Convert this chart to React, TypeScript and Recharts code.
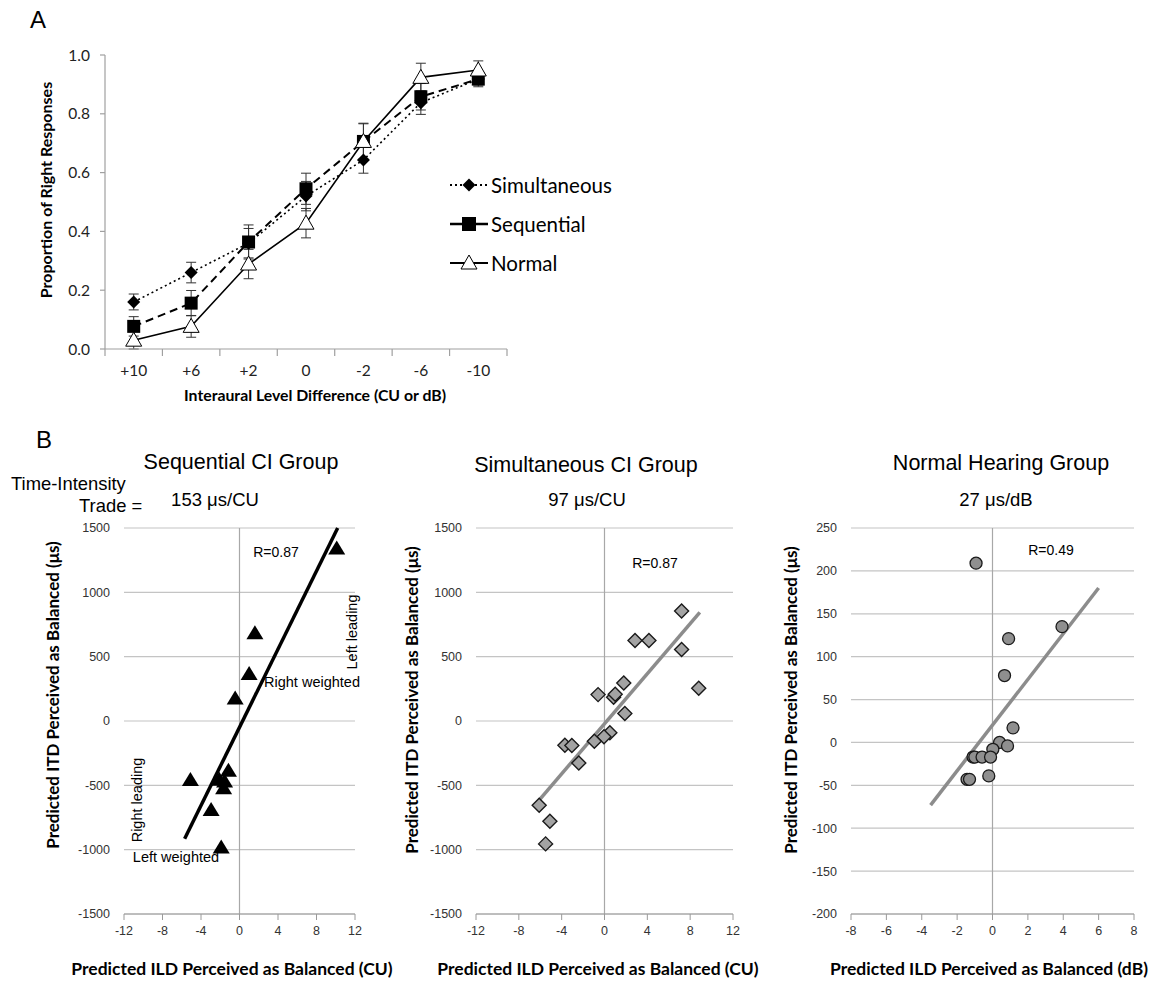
import React from "react";
import {
  CartesianGrid,
  ErrorBar,
  Line,
  LineChart,
  ReferenceLine,
  Scatter,
  ScatterChart,
  XAxis,
  YAxis,
} from "recharts";

// Panel A: proportion of right responses by ILD
const ildCats = ["+10", "+6", "+2", "0", "-2", "-6", "-10"];
const simVals = [0.16, 0.26, 0.36, 0.52, 0.643, 0.838, 0.918];
const simErr = [0.027, 0.035, 0.05, 0.05, 0.045, 0.04, 0.02];
const seqVals = [0.077, 0.156, 0.364, 0.545, 0.706, 0.858, 0.918];
const seqErr = [0.033, 0.043, 0.058, 0.053, 0.062, 0.045, 0.026];
const norVals = [0.03, 0.077, 0.289, 0.428, 0.706, 0.924, 0.949];
const norErr = [0.03, 0.037, 0.05, 0.05, 0.06, 0.048, 0.031];
const propTicks = [0, 0.2, 0.4, 0.6, 0.8, 1.0];
const bandEdges = [0, 1, 2, 3, 4, 5, 6, 7];

// Panel B: predicted ILD vs ITD perceived as balanced
const seqIld = [10.1, 1.6, 1.0, -0.45, -5.1, -1.15, -2.1, -1.55, -1.65, -2.95, -1.9];
const seqItd = [1345, 685, 370, 178, -455, -383, -453, -466, -518, -687, -980];
const seqFitX = [-5.7, 10.2];
const seqFitY = [-915, 1500];

const simIld = [7.2, 2.85, 4.15, 7.2, 8.8, 1.8, -0.6, 0.85, 1.0, 1.9, 0.5, -0.05, -0.95, -3.7, -3.05, -2.4, -6.1, -5.1, -5.5];
const simItd = [855, 625, 625, 555, 255, 295, 205, 185, 208, 58, -92, -122, -158, -188, -190, -327, -655, -780, -955];
const simFitX = [-6.1, 8.9];
const simFitY = [-615, 845];

const norIld = [-0.93, 3.93, 0.91, 0.68, 1.16, 0.4, 0.85, 0.02, -1.1, -1.0, -0.59, -0.11, -0.21, -1.44, -1.3];
const norItd = [209, 135, 121, 78, 17, 0, -4, -8, -17, -17, -17, -17, -39, -43, -43];
const norFitX = [-3.5, 6.0];
const norFitY = [-73, 180];

const ciXTicks = [-12, -8, -4, 0, 4, 8, 12];
const ciYTicks = [-1500, -1000, -500, 0, 500, 1000, 1500];
const nhXTicks = [-8, -6, -4, -2, 0, 2, 4, 6, 8];
const nhYTicks = [-200, -150, -100, -50, 0, 50, 100, 150, 200, 250];

const CALIBRI = "Lato, 'Open Sans', sans-serif";
const ARIAL = "'Liberation Sans', Arial, sans-serif";

// panel A geometry
const A_W = 540;
const A_LEFT = 45;
const A_YAXIS = 60;
const A_RIGHT = 33;
const halfBand = (A_W - A_LEFT - A_YAXIS - A_RIGHT) / ildCats.length / 2;

const lineData = ildCats.map((c, i) => ({
  x: i + 0.5,
  sim: simVals[i],
  simErr: simErr[i],
  seq: seqVals[i],
  seqErr: seqErr[i],
  nor: norVals[i],
  norErr: norErr[i],
}));

const pts = (xs: number[], ys: number[]) => xs.map((x, i) => ({ x, y: ys[i] }));

const Diamond = (p: any) => {
  const { cx, cy } = p;
  if (cx == null || cy == null) return <g />;
  return <path d={`M${cx},${cy - 6.5}L${cx + 6.5},${cy}L${cx},${cy + 6.5}L${cx - 6.5},${cy}Z`} fill="#000" />;
};
const Square = (p: any) => {
  const { cx, cy } = p;
  if (cx == null || cy == null) return <g />;
  return <rect x={cx - 6.5} y={cy - 6.5} width={13} height={13} fill="#000" />;
};
const OpenTri = (p: any) => {
  const { cx, cy } = p;
  if (cx == null || cy == null) return <g />;
  return (
    <path
      d={`M${cx},${cy - 8}L${cx + 8},${cy + 6}L${cx - 8},${cy + 6}Z`}
      fill="#fff"
      stroke="#000"
      strokeWidth={1}
    />
  );
};

// category label centred in the band right of each edge tick
const BandTick = (p: any) => {
  const { x, y, payload } = p;
  const label = ildCats[payload.value];
  if (label == null) return <g />;
  return (
    <text x={x + halfBand} y={y} dy="0.71em" textAnchor="middle" fill="#222" fontSize={15.5} fontFamily={CALIBRI}>
      {label}
    </text>
  );
};

const BlackTri = (p: any) => (
  <path d={`M${p.cx},${p.cy - 7.5}L${p.cx + 8.5},${p.cy + 6.5}L${p.cx - 8.5},${p.cy + 6.5}Z`} fill="#000" />
);
const GrayDiamond = (p: any) => (
  <path
    d={`M${p.cx},${p.cy - 7}L${p.cx + 7},${p.cy}L${p.cx},${p.cy + 7}L${p.cx - 7},${p.cy}Z`}
    fill="#a3a3a3"
    stroke="#1a1a1a"
    strokeWidth={1.4}
  />
);
const GrayCircle = (p: any) => (
  <circle cx={p.cx} cy={p.cy} r={6} fill="#8f8f8f" stroke="#1a1a1a" strokeWidth={1.3} />
);
const NoShape = () => <g />;

function Txt({
  x,
  y,
  children,
  size = 14,
  font = ARIAL,
  bold = false,
  rotate = false,
  anchor = "center",
}: any) {
  const tx = anchor === "left" ? "0" : "-50%";
  return (
    <div
      style={{
        position: "absolute",
        left: x,
        top: y,
        transform: `translate(${tx}, -50%)${rotate ? " rotate(-90deg)" : ""}`,
        transformOrigin: anchor === "left" ? "0 50%" : "50% 50%",
        fontFamily: font,
        fontSize: size,
        fontWeight: bold ? 700 : 400,
        whiteSpace: "nowrap",
        lineHeight: 1,
        color: "#000",
      }}
    >
      {children}
    </div>
  );
}

function LegendRow({ y, kind, label }: { y: number; kind: string; label: string }) {
  return (
    <div style={{ position: "absolute", left: 448, top: y - 12, height: 24, display: "flex", alignItems: "center" }}>
      <svg width={42} height={24}>
        {kind === "sim" && (
          <>
            <line x1={2} y1={12} x2={40} y2={12} stroke="#000" strokeWidth={2} strokeDasharray="2 3" />
            <path d="M21,5.5L27.5,12L21,18.5L14.5,12Z" fill="#000" />
          </>
        )}
        {kind === "seq" && (
          <>
            <line x1={2} y1={12} x2={40} y2={12} stroke="#000" strokeWidth={2.5} />
            <rect x={14} y={5} width={14} height={14} fill="#000" />
          </>
        )}
        {kind === "nor" && (
          <>
            <line x1={2} y1={12} x2={40} y2={12} stroke="#000" strokeWidth={2} />
            <path d="M21,4L29,18L13,18Z" fill="#fff" stroke="#000" strokeWidth={1} />
          </>
        )}
      </svg>
      <span style={{ fontFamily: CALIBRI, fontSize: 20.5, marginLeft: 1 }}>{label}</span>
    </div>
  );
}

function CiPanel({
  left,
  plotW,
  data,
  fitX,
  fitY,
  xTicks,
  yTicks,
  shape,
  fitColor,
}: any) {
  const yAxisW = 50;
  const mLeft = 20;
  const width = mLeft + yAxisW + plotW + 20;
  const xDom = [xTicks[0], xTicks[xTicks.length - 1]];
  const yDom = [yTicks[0], yTicks[yTicks.length - 1]];
  return (
    <div style={{ position: "absolute", left: left - mLeft - yAxisW, top: 500 }}>
      <ScatterChart width={width} height={444} margin={{ top: 28, right: 20, left: mLeft, bottom: 0 }}>
        <CartesianGrid vertical={false} stroke="#c4c4c4" strokeWidth={1.2} />
        <XAxis
          type="number"
          dataKey="x"
          domain={xDom}
          ticks={xTicks}
          interval={0}
          height={30}
          stroke="#9a9a9a"
          tickSize={6}
          tickMargin={6}
          tick={{ fill: "#333", fontSize: 12.5, fontFamily: ARIAL }}
        />
        <YAxis
          type="number"
          dataKey="y"
          domain={yDom}
          ticks={yTicks}
          interval={0}
          width={yAxisW}
          axisLine={false}
          tickLine={false}
          tickSize={6}
          tickMargin={8}
          tick={{ fill: "#333", fontSize: 12.5, fontFamily: ARIAL }}
        />
        <ReferenceLine x={0} stroke="#a8a8a8" strokeWidth={1.2} />
        <Scatter
          data={pts(fitX, fitY)}
          line={{ stroke: fitColor, strokeWidth: 3.5 }}
          shape={NoShape}
          isAnimationActive={false}
        />
        <Scatter data={data} shape={shape} isAnimationActive={false} />
      </ScatterChart>
    </div>
  );
}

export default function App() {
  return (
    <div style={{ position: "absolute", left: 0, top: 0, width: 1157, height: 984, background: "#fff" }}>
      {/* Panel A */}
      <Txt x={38} y={20} size={24} font={ARIAL}>A</Txt>
      <div style={{ position: "absolute", left: 0, top: 0 }}>
        <LineChart
          width={A_W}
          height={420}
          data={lineData}
          margin={{ top: 55, right: A_RIGHT, left: A_LEFT, bottom: 41 }}
        >
          <XAxis
            type="number"
            dataKey="x"
            domain={[0, 7]}
            ticks={bandEdges}
            interval={0}
            height={30}
            stroke="#a0a0a0"
            strokeWidth={1.2}
            tickSize={7}
            tickMargin={9}
            tick={BandTick}
          />
          <YAxis
            type="number"
            domain={[0, 1]}
            ticks={propTicks}
            interval={0}
            width={A_YAXIS}
            stroke="#a0a0a0"
            strokeWidth={1.2}
            tickSize={5}
            tickMargin={10}
            tickFormatter={(v: number) => v.toFixed(1)}
            tick={{ fill: "#222", fontSize: 15.5, fontFamily: CALIBRI }}
          />
          <Line
            dataKey="sim"
            stroke="#000"
            strokeWidth={1.6}
            strokeDasharray="2 3"
            dot={Diamond}
            isAnimationActive={false}
          >
            <ErrorBar dataKey="simErr" width={5} stroke="#333" strokeWidth={1} direction="y" />
          </Line>
          <Line
            dataKey="seq"
            stroke="#000"
            strokeWidth={2}
            strokeDasharray="8 5"
            dot={Square}
            isAnimationActive={false}
          >
            <ErrorBar dataKey="seqErr" width={5} stroke="#333" strokeWidth={1} direction="y" />
          </Line>
          <Line dataKey="nor" stroke="#000" strokeWidth={1.6} dot={OpenTri} isAnimationActive={false}>
            <ErrorBar dataKey="norErr" width={5} stroke="#333" strokeWidth={1} direction="y" />
          </Line>
        </LineChart>
      </div>
      <Txt x={46} y={190} size={16} font={CALIBRI} bold rotate>
        Proportion of Right Responses
      </Txt>
      <Txt x={315} y={395} size={15.8} font={CALIBRI} bold>
        Interaural Level Difference (CU or dB)
      </Txt>
      <LegendRow y={185} kind="sim" label="Simultaneous" />
      <LegendRow y={224} kind="seq" label="Sequential" />
      <LegendRow y={263} kind="nor" label="Normal" />

      {/* Panel B */}
      <Txt x={44} y={440} size={24} font={ARIAL}>B</Txt>

      <Txt x={241} y={463} size={21.5}>Sequential CI Group</Txt>
      <Txt x={11} y={484} size={18.4} anchor="left">Time-Intensity</Txt>
      <Txt x={79} y={506} size={18.4} anchor="left">Trade =</Txt>
      <Txt x={215} y={500} size={18.5}>153 μs/CU</Txt>

      <Txt x={586} y={466} size={21.5}>Simultaneous CI Group</Txt>
      <Txt x={587} y={500} size={18.5}>97 μs/CU</Txt>

      <Txt x={1001} y={464} size={21.5}>Normal Hearing Group</Txt>
      <Txt x={996} y={500} size={18.5}>27 μs/dB</Txt>

      <CiPanel
        left={124}
        plotW={231}
        data={pts(seqIld, seqItd)}
        fitX={seqFitX}
        fitY={seqFitY}
        xTicks={ciXTicks}
        yTicks={ciYTicks}
        shape={BlackTri}
        fitColor="#000"
      />
      <CiPanel
        left={476}
        plotW={257}
        data={pts(simIld, simItd)}
        fitX={simFitX}
        fitY={simFitY}
        xTicks={ciXTicks}
        yTicks={ciYTicks}
        shape={GrayDiamond}
        fitColor="#8c8c8c"
      />
      <CiPanel
        left={851}
        plotW={283}
        data={pts(norIld, norItd)}
        fitX={norFitX}
        fitY={norFitY}
        xTicks={nhXTicks}
        yTicks={nhYTicks}
        shape={GrayCircle}
        fitColor="#8c8c8c"
      />

      {/* annotations */}
      <Txt x={276} y={552} size={14}>R=0.87</Txt>
      <Txt x={352} y={632} size={14.5} rotate>Left leading</Txt>
      <Txt x={312} y={682} size={14.5}>Right weighted</Txt>
      <Txt x={137} y={800} size={14.5} rotate>Right leading</Txt>
      <Txt x={176} y={857} size={14.5}>Left weighted</Txt>
      <Txt x={655} y={563} size={14}>R=0.87</Txt>
      <Txt x={1051} y={550} size={14}>R=0.49</Txt>

      {/* axis titles */}
      <Txt x={52} y={695} size={17} font={CALIBRI} bold rotate>
        Predicted ITD Perceived as Balanced (μs)
      </Txt>
      <Txt x={411} y={700} size={17} font={CALIBRI} bold rotate>
        Predicted ITD Perceived as Balanced (μs)
      </Txt>
      <Txt x={790} y={700} size={17} font={CALIBRI} bold rotate>
        Predicted ITD Perceived as Balanced (μs)
      </Txt>
      <Txt x={232} y={969} size={17.5} font={CALIBRI} bold>
        Predicted ILD Perceived as Balanced (CU)
      </Txt>
      <Txt x={598} y={969} size={17.5} font={CALIBRI} bold>
        Predicted ILD Perceived as Balanced (CU)
      </Txt>
      <Txt x={989} y={969} size={17.5} font={CALIBRI} bold>
        Predicted ILD Perceived as Balanced (dB)
      </Txt>
    </div>
  );
}
